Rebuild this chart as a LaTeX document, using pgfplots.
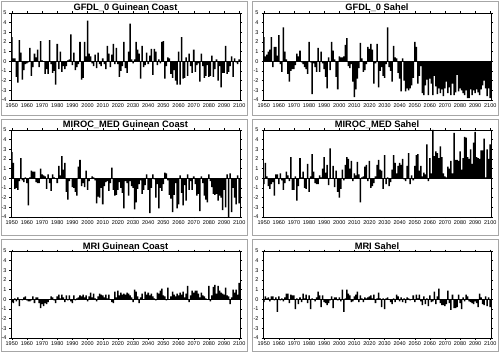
\documentclass[border=0pt]{standalone}
\usepackage{pgfplots}
\pgfplotsset{compat=1.18}
\usepackage{pgfplotstable}
\usepackage{fontspec}
\setmainfont{Liberation Sans}
\setsansfont{Liberation Sans}

\pgfplotstableread{
year gc sa
1950 2.5 2.5
1951 0.3 0.5
1952 0.3 0.7
1953 -1.6 1.0
1954 -2.2 1.2
1955 2.2 2.5
1956 0.9 -0.6
1957 -1.9 1.5
1958 -0.9 1.5
1959 -0.3 0.6
1960 -0.2 2.7
1961 -0.1 -0.3
1962 1.4 -1.1
1963 -1.5 3.5
1964 -0.6 1.0
1965 0.8 0.2
1966 0.4 -1.3
1967 1.2 -2.1
1968 -0.6 -1.0
1969 2.1 -0.8
1970 0.1 -0.8
1971 0.0 -0.4
1972 -1.3 0.8
1973 -0.8 0.5
1974 -1.3 1.1
1975 2.2 -0.1
1976 -0.3 -0.3
1977 -1.2 -0.6
1978 -1.0 -0.8
1979 -2.4 -1.3
1980 1.8 2.0
1981 -0.8 -0.1
1982 1.0 -3.4
1983 -1.1 -0.2
1984 -0.5 -0.6
1985 -0.8 -1.1
1986 -0.5 1.4
1987 0.1 -1.1
1988 0.2 1.0
1989 2.8 -0.2
1990 -0.4 -0.8
1991 0.9 -1.6
1992 -0.9 -2.8
1993 -0.6 0.4
1994 -0.3 -0.9
1995 2.0 2.0
1996 -1.9 1.1
1997 -1.7 0.2
1998 2.0 -1.6
1999 0.5 -2.9
2000 4.2 0.5
2001 0.8 0.4
2002 0.5 0.4
2003 -0.2 0.5
2004 -0.5 1.7
2005 0.7 2.4
2006 -0.7 -0.5
2007 0.9 -0.7
2008 -0.3 -0.3
2009 -0.5 -2.1
2010 0.3 -3.7
2011 -0.3 -2.9
2012 -0.8 -1.8
2013 1.6 -0.7
2014 0.8 1.9
2015 -0.6 0.3
2016 0.7 -1.1
2017 1.8 -0.9
2018 -0.3 -0.3
2019 1.4 1.5
2020 -0.3 1.3
2021 -1.6 1.8
2022 -1.0 1.2
2023 -0.5 -2.3
2024 2.0 -0.2
2025 -0.7 1.8
2026 -1.2 -2.7
2027 1.0 -1.0
2028 3.9 -0.6
2029 0.2 -1.5
2030 -0.2 -1.7
2031 0.2 -0.3
2032 2.0 3.5
2033 1.2 -0.6
2034 0.8 -1.0
2035 -1.8 -2.1
2036 1.6 1.6
2037 -0.6 0.4
2038 -0.4 0.3
2039 0.9 -1.2
2040 -0.3 -1.8
2041 0.6 -3.1
2042 1.3 0.3
2043 -1.4 -2.0
2044 1.3 -3.1
2045 1.0 -2.8
2046 -0.4 -3.0
2047 0.2 -2.8
2048 -0.2 -2.5
2049 2.0 -1.7
2050 2.1 2.0
2051 -1.8 1.5
2052 -0.5 -2.3
2053 0.4 -1.5
2054 0.3 -0.5
2055 -1.3 -3.3
2056 -1.7 -3.5
2057 -0.9 -2.5
2058 -2.0 -1.9
2059 -2.4 -3.5
2060 1.0 -1.8
2061 -2.4 -2.3
2062 2.5 -3.5
2063 -1.8 -1.5
2064 -1.7 -2.6
2065 0.4 -3.4
2066 -1.5 -2.8
2067 0.8 -3.3
2068 -0.5 -2.9
2069 -1.2 -3.6
2070 1.2 -2.8
2071 -1.1 -2.1
2072 -0.4 -3.3
2073 -0.2 -2.7
2074 -2.1 -3.5
2075 0.8 -2.3
2076 -0.5 -3.5
2077 -1.7 -3.2
2078 -1.5 -1.4
2079 -0.4 -3.1
2080 -1.6 -2.8
2081 -1.5 -3.0
2082 0.6 -3.3
2083 -1.6 -3.5
2084 -0.8 -3.0
2085 0.2 -3.8
2086 -2.0 -3.8
2087 -0.5 -2.9
2088 -2.7 -3.5
2089 -1.2 -3.0
2090 -1.2 -3.3
2091 1.6 -2.9
2092 -1.3 -3.2
2093 -1.1 -3.5
2094 -0.5 -2.9
2095 0.5 -2.5
2096 -1.6 -2.0
2097 0.3 -2.8
2098 -0.1 -3.6
2099 -0.3 -2.8
2100 0.2 -3.8
}\gfdl

\pgfplotstableread{
year gc sa
1950 2.7 -0.6
1951 1.6 1.6
1952 -1.1 0.2
1953 -1.0 -0.8
1954 -1.2 -1.1
1955 -0.3 -0.6
1956 2.1 -0.4
1957 -0.2 -1.8
1958 -0.4 0.4
1959 0.1 0.4
1960 -0.5 -0.6
1961 -2.8 0.5
1962 0.1 -0.2
1963 0.8 -1.2
1964 0.7 -0.5
1965 0.7 0.7
1966 -0.4 0.3
1967 -0.5 -0.3
1968 -0.5 2.2
1969 1.0 -1.2
1970 0.4 -1.2
1971 0.3 0.2
1972 0.2 -2.3
1973 -1.1 -0.8
1974 0.4 2.1
1975 -0.5 0.1
1976 -1.3 0.7
1977 0.4 -1.0
1978 0.1 -1.1
1979 0.0 1.5
1980 -0.5 -1.4
1981 1.3 0.2
1982 0.3 2.5
1983 2.3 0.7
1984 0.9 -0.5
1985 1.6 -0.6
1986 -1.4 -0.6
1987 -2.2 0.3
1988 -0.3 0.1
1989 0.0 1.0
1990 -0.9 2.2
1991 -1.0 0.6
1992 -1.4 1.4
1993 -1.8 -0.7
1994 1.2 3.1
1995 1.9 0.0
1996 -0.8 1.3
1997 -0.5 -0.9
1998 -0.9 0.8
1999 0.8 -1.4
2000 -1.2 -2.0
2001 -0.3 -1.1
2002 0.0 0.9
2003 0.2 -0.2
2004 0.1 1.4
2005 -0.2 2.2
2006 -2.6 2.0
2007 -1.9 1.0
2008 -2.0 1.8
2009 -1.0 -0.3
2010 -2.7 0.5
2011 -0.8 0.3
2012 -0.4 1.7
2013 -0.3 0.4
2014 -1.3 -2.5
2015 -0.5 0.1
2016 1.1 0.2
2017 -1.2 1.2
2018 -1.8 1.4
2019 -1.7 -0.3
2020 -1.2 1.8
2021 -0.4 -1.0
2022 -1.0 -0.8
2023 -1.5 -0.5
2024 -3.1 0.2
2025 -0.3 1.4
2026 -0.5 1.9
2027 -1.8 0.9
2028 -0.3 0.8
2029 -0.8 -1.1
2030 -1.0 2.4
2031 -3.2 -0.6
2032 -2.5 0.1
2033 -1.1 -0.8
2034 -0.6 -0.4
2035 -0.2 0.9
2036 -1.6 2.4
2037 -1.2 1.6
2038 -0.7 0.5
2039 0.4 1.3
2040 -1.2 1.6
2041 -3.6 1.4
2042 -1.0 2.0
2043 0.4 -0.1
2044 -0.1 -0.3
2045 -2.0 1.3
2046 -0.6 2.6
2047 -3.1 -0.6
2048 -1.0 0.3
2049 -1.3 -0.2
2050 -0.6 1.3
2051 0.6 2.4
2052 0.5 2.5
2053 -0.2 0.8
2054 -1.7 1.3
2055 -2.1 0.2
2056 -3.5 0.6
2057 -1.7 0.4
2058 -0.5 3.5
2059 -3.1 -0.3
2060 -2.7 2.1
2061 0.3 0.5
2062 -1.5 5.0
2063 -2.8 2.3
2064 -0.7 2.8
2065 -2.3 2.6
2066 0.4 2.1
2067 -1.2 3.3
2068 -0.3 2.2
2069 -1.2 0.5
2070 0.2 0.2
2071 -0.6 0.1
2072 -1.8 1.2
2073 -1.6 1.0
2074 -3.4 1.8
2075 0.2 0.5
2076 -0.5 4.7
2077 -1.8 1.9
2078 -2.2 1.9
2079 -2.5 1.8
2080 0.4 2.8
2081 -0.3 0.9
2082 -0.9 2.1
2083 -1.6 4.3
2084 -1.7 4.2
2085 -1.6 2.2
2086 -2.3 2.0
2087 -1.8 3.0
2088 -2.0 1.5
2089 -3.3 3.7
2090 -1.2 4.8
2091 -3.0 2.2
2092 0.4 2.1
2093 -4.0 2.0
2094 0.5 2.9
2095 -3.5 2.9
2096 -1.0 4.1
2097 -2.0 0.1
2098 -2.7 3.0
2099 0.3 2.0
2100 -2.6 3.5
}\miroc

\pgfplotstableread{
year gc sa
1950 -0.3 -0.3
1951 -0.4 0.3
1952 0.1 0.1
1953 -0.2 0.2
1954 0.2 -0.2
1955 -0.7 0.3
1956 0.0 0.3
1957 -0.1 -0.1
1958 0.2 0.2
1959 0.3 -1.3
1960 -0.1 0.3
1961 -0.2 -0.1
1962 -0.2 0.1
1963 -0.1 -0.2
1964 0.3 0.2
1965 -0.4 0.6
1966 0.2 0.6
1967 0.2 -0.4
1968 -0.4 0.5
1969 -0.9 0.4
1970 -0.5 0.4
1971 -0.7 -1.0
1972 -0.4 0.1
1973 -0.5 -0.5
1974 -0.3 0.2
1975 0.0 -0.3
1976 0.3 0.6
1977 0.2 0.1
1978 -0.1 0.5
1979 -0.4 -0.4
1980 0.3 0.4
1981 0.5 -1.0
1982 0.1 0.1
1983 0.5 0.0
1984 0.2 -0.2
1985 -0.3 0.2
1986 0.4 0.8
1987 -0.1 0.4
1988 0.4 -0.8
1989 -0.2 0.4
1990 -0.4 -0.3
1991 0.4 -0.4
1992 -0.1 -0.6
1993 0.1 -0.4
1994 0.2 -0.1
1995 0.4 0.3
1996 0.3 -0.9
1997 0.5 0.2
1998 0.2 0.2
1999 0.4 -0.1
2000 -0.2 0.2
2001 0.3 -0.2
2002 0.7 1.0
2003 0.2 -1.3
2004 0.6 0.1
2005 0.1 1.0
2006 -0.2 0.6
2007 0.3 0.4
2008 0.6 -0.3
2009 0.5 -0.2
2010 0.4 0.3
2011 0.2 0.5
2012 0.5 0.8
2013 0.1 -0.3
2014 0.5 0.4
2015 0.0 0.1
2016 -0.3 -0.3
2017 -0.4 0.2
2018 0.8 0.1
2019 0.2 0.2
2020 0.9 0.3
2021 0.4 0.4
2022 0.7 0.1
2023 0.5 0.5
2024 0.6 -0.4
2025 0.5 0.1
2026 0.7 0.7
2027 0.6 0.1
2028 0.4 -0.8
2029 0.2 0.1
2030 -0.3 -1.0
2031 1.0 0.1
2032 0.8 0.2
2033 0.3 0.0
2034 -0.4 -0.3
2035 0.2 -0.5
2036 0.6 0.1
2037 0.0 -0.3
2038 0.8 0.5
2039 0.5 0.3
2040 0.7 -0.2
2041 0.4 0.2
2042 0.6 -0.3
2043 0.3 0.1
2044 0.1 -0.4
2045 -0.1 0.2
2046 0.7 0.1
2047 0.6 -0.1
2048 0.9 0.0
2049 1.1 0.4
2050 0.4 -0.3
2051 0.3 0.5
2052 -0.1 0.1
2053 1.2 0.5
2054 0.0 -0.2
2055 0.3 -0.6
2056 0.8 0.3
2057 0.5 -0.5
2058 0.3 0.1
2059 0.6 -0.7
2060 0.4 0.4
2061 0.7 -0.3
2062 0.5 -0.2
2063 0.8 0.8
2064 0.2 -0.5
2065 0.6 0.3
2066 1.4 1.1
2067 -0.3 -0.4
2068 0.4 -0.6
2069 0.9 -0.6
2070 0.7 -0.7
2071 0.9 -0.5
2072 0.9 0.9
2073 0.6 -0.4
2074 0.2 -1.1
2075 0.7 0.5
2076 0.4 -0.9
2077 0.3 -0.9
2078 0.1 -0.8
2079 0.0 0.5
2080 1.4 -0.4
2081 -0.2 -1.0
2082 0.4 0.2
2083 1.3 -0.2
2084 1.5 0.5
2085 0.6 0.3
2086 1.4 -0.2
2087 0.9 -0.3
2088 0.7 -0.4
2089 0.6 -0.5
2090 0.5 -0.2
2091 1.2 -0.4
2092 0.4 -0.8
2093 0.3 0.6
2094 -0.5 0.2
2095 0.2 -0.5
2096 1.0 -0.6
2097 0.7 0.3
2098 1.0 -0.7
2099 0.5 0.2
2100 1.7 -0.8
}\mri

\pgfplotsset{
  every axis title/.style={at={(0.5,1)}, anchor=base, yshift=2pt,
      font=\bfseries\fontsize{9.3}{11}\selectfont},
  panel/.style={
    width=229pt, height=87pt, scale only axis,
    xmin=1949.5, xmax=2100.5, ymin=-4, ymax=5,
    xtick={1950,1960,...,2100}, ytick={-4,-3,...,5},
    axis line style={line width=0.6pt, black},
    tick align=outside, major tick length=1.5pt,
    tick style={black, line width=0.4pt},
    ticklabel style={font=\fontsize{5.5}{6}\selectfont},
    xticklabel style={/pgf/number format/1000 sep={}, yshift=1pt},
    yticklabel style={xshift=0.5pt},
    /pgf/number format/assume math mode=true,
    clip=true,
  },
  bars/.style={ybar, bar width=1, bar shift=0pt, fill=black, draw=none},
}

\begin{document}
\begin{tikzpicture}
\fill[white] (0,0) rectangle (500pt,353pt);
\useasboundingbox (0,0) rectangle (500pt,353pt);
% outer frames
\foreach \xa/\xb in {1/247, 252/498}{
  \foreach \ya/\yb in {238/352, 118/234, 2/114}{
    \draw[gray!70, line width=0.6pt] (\xa pt,\ya pt) rectangle (\xb pt,\yb pt);
  }
}

\begin{axis}[panel, at={(11pt,253pt)}, anchor=south west, title={GFDL\_0 Guinean Coast}]
\addplot[bars] table[x=year, y=gc] {\gfdl};
\draw[black, line width=0.4pt] (axis cs:1949.5,0) -- (axis cs:2100.5,0);
\end{axis}
\begin{axis}[panel, at={(263pt,253pt)}, anchor=south west, width=228pt, title={GFDL\_0 Sahel}]
\addplot[bars] table[x=year, y=sa] {\gfdl};
\draw[black, line width=0.4pt] (axis cs:1949.5,0) -- (axis cs:2100.5,0);
\end{axis}

\begin{axis}[panel, at={(11pt,136pt)}, anchor=south west, title={MIROC\_MED Guinean Coast}]
\addplot[bars] table[x=year, y=gc] {\miroc};
\draw[black, line width=0.4pt] (axis cs:1949.5,0) -- (axis cs:2100.5,0);
\end{axis}
\begin{axis}[panel, at={(263pt,136pt)}, anchor=south west, width=228pt, title={MIROC\_MED Sahel}]
\addplot[bars] table[x=year, y=sa] {\miroc};
\draw[black, line width=0.4pt] (axis cs:1949.5,0) -- (axis cs:2100.5,0);
\end{axis}

\begin{axis}[panel, at={(11pt,15pt)}, anchor=south west, title={MRI Guinean Coast}]
\addplot[bars] table[x=year, y=gc] {\mri};
\draw[black, line width=0.4pt] (axis cs:1949.5,0) -- (axis cs:2100.5,0);
\end{axis}
\begin{axis}[panel, at={(263pt,15pt)}, anchor=south west, width=228pt, title={MRI Sahel}]
\addplot[bars] table[x=year, y=sa] {\mri};
\draw[black, line width=0.4pt] (axis cs:1949.5,0) -- (axis cs:2100.5,0);
\end{axis}
\end{tikzpicture}
\end{document}
